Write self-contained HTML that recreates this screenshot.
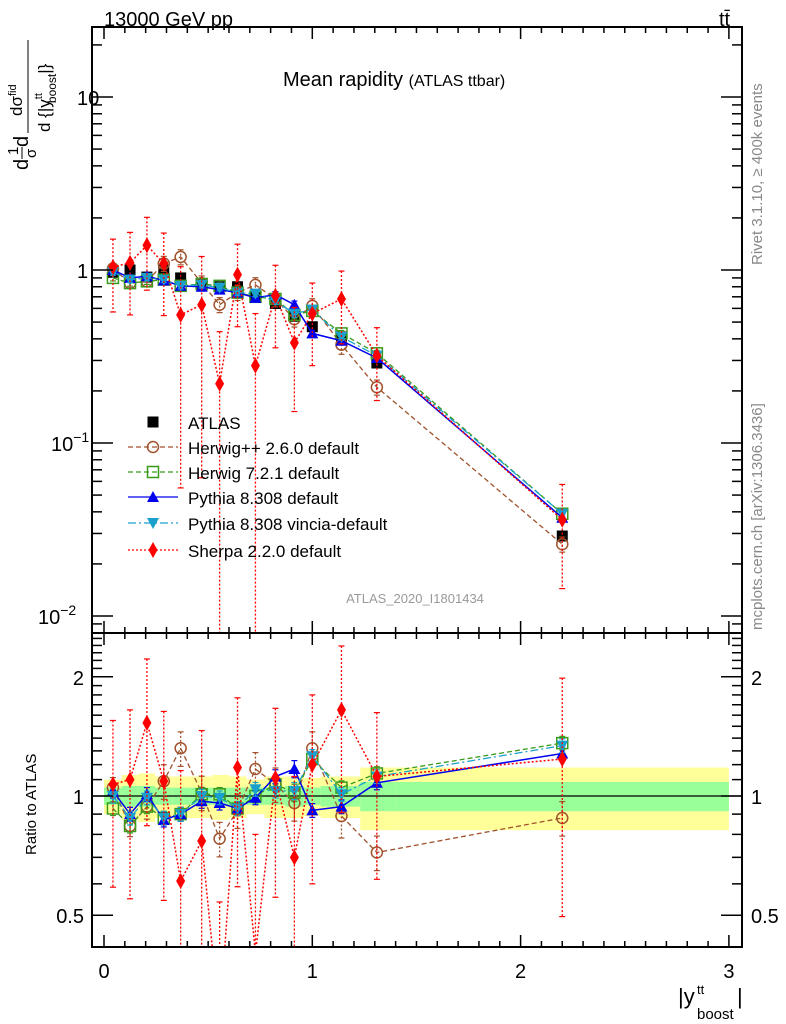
<!DOCTYPE html>
<html><head><meta charset="utf-8"><style>
html,body{margin:0;padding:0;background:#fff;}
svg{display:block;font-family:"Liberation Sans",sans-serif;}
</style></head><body>
<svg id="chart" width="786" height="1024" viewBox="0 0 786 1024" xmlns="http://www.w3.org/2000/svg">
<defs>
<clipPath id="clipMain"><rect x="92" y="27" width="650" height="606"/></clipPath>
<clipPath id="clipRatio"><rect x="92" y="633" width="650" height="314"/></clipPath>
</defs>
<g id="bands" clip-path="url(#clipRatio)"></g>
<g id="main" clip-path="url(#clipMain)"></g>
<g id="ratio" clip-path="url(#clipRatio)"></g>
<g id="axes"></g>
<g id="legend"></g>
<text x="104" y="26" font-size="20">13000 GeV pp</text>
<text x="719" y="26" font-size="20">tt̄</text>
<text x="283" y="86" font-size="20">Mean rapidity <tspan font-size="16">(ATLAS ttbar)</tspan></text>
<text x="415" y="603" font-size="13" fill="#999" text-anchor="middle">ATLAS_2020_I1801434</text>
<text transform="translate(762,265) rotate(-90)" font-size="15" fill="#888">Rivet 3.1.10, ≥ 400k events</text>
<text transform="translate(762,630) rotate(-90)" font-size="15" fill="#888">mcplots.cern.ch [arXiv:1306.3436]</text>
<g font-size="20">
<text transform="translate(28,170) rotate(-90)">d</text>
<text transform="translate(18,155) rotate(-90)" font-size="15">1</text>
<line x1="22" y1="159" x2="22" y2="147" stroke="#000" stroke-width="1"/>
<text transform="translate(36,158) rotate(-90)" font-size="15">σ</text>
<text transform="translate(28,147) rotate(-90)">d</text>
<text transform="translate(22,116) rotate(-90)" font-size="17">dσ<tspan font-size="11" dy="-6">fid</tspan></text>
<line x1="28" y1="133" x2="28" y2="40" stroke="#000" stroke-width="1"/>
<text transform="translate(50,132) rotate(-90)" font-size="17">d {|y<tspan font-size="11" dy="-8">tt</tspan><tspan font-size="12" dy="14" dx="-10">boost</tspan><tspan dy="-6">|}</tspan></text>
</g>
<text transform="translate(36,855) rotate(-90)" font-size="15">Ratio to ATLAS</text>
<g><text x="678" y="1004" font-size="22">|y</text><text x="697" y="994" font-size="13">tt</text><text x="697" y="1019" font-size="15">boost</text><text x="737" y="1004" font-size="22">|</text></g>
</svg>
<script>
const xCenters=[0.043,0.125,0.206,0.287,0.368,0.469,0.555,0.641,0.727,0.823,0.914,1.0,1.14,1.31,2.2];
const binEdges=[0,0.085,0.165,0.245,0.33,0.41,0.52,0.6,0.685,0.77,0.87,0.96,1.04,1.23,1.4,3];
const atlasVals=[0.97,1.0,0.91,1.0,0.9,0.82,0.8,0.8,0.7,0.64,0.54,0.47,0.41,0.29,0.029];
const bandInner=[0.05,0.06,0.06,0.05,0.05,0.05,0.05,0.05,0.05,0.05,0.06,0.05,0.06,0.085,0.085];
const bandOuter=[0.1,0.13,0.14,0.12,0.12,0.12,0.13,0.12,0.1,0.12,0.12,0.11,0.12,0.18,0.18];
const herwigPPVals=[1.02,0.84,0.86,1.09,1.19,0.84,0.63,0.74,0.82,0.68,0.52,0.62,0.37,0.21,0.026];
const herwig7Vals=[0.9,0.84,0.86,0.88,0.81,0.83,0.81,0.74,0.7,0.68,0.55,0.58,0.43,0.33,0.039];
const pythiaVals=[1.0,0.9,0.92,0.87,0.81,0.8,0.77,0.74,0.69,0.72,0.63,0.43,0.39,0.31,0.037];
const vinciaVals=[0.97,0.88,0.9,0.88,0.81,0.82,0.79,0.74,0.73,0.66,0.56,0.59,0.41,0.32,0.039];
const sherpaVals=[1.04,1.1,1.39,1.09,0.55,0.63,0.22,0.94,0.28,0.71,0.38,0.56,0.68,0.32,0.036];
const herwigPPRatio=[1.05,0.84,0.94,1.09,1.32,1.02,0.78,0.92,1.17,1.07,0.96,1.32,0.89,0.72,0.88];
const herwig7Ratio=[0.93,0.84,0.94,0.88,0.9,1.01,1.01,0.93,1.0,1.07,1.02,1.24,1.05,1.14,1.36];
const pythiaRatio=[1.03,0.9,1.01,0.87,0.9,0.97,0.96,0.93,0.99,1.12,1.17,0.92,0.94,1.08,1.28];
const vinciaRatio=[1.0,0.88,0.99,0.88,0.9,1.0,0.99,0.93,1.04,1.03,1.03,1.26,1.01,1.12,1.34];
const sherpaRatio=[1.07,1.1,1.53,1.09,0.61,0.77,0.27,1.18,0.4,1.11,0.7,1.2,1.65,1.12,1.24];
const herwigPPErr=[0.06,0.06,0.07,0.1,0.1,0.1,0.1,0.1,0.1,0.1,0.1,0.1,0.12,0.1,0.1];
const smallErr=[0.04,0.04,0.04,0.04,0.04,0.04,0.04,0.04,0.04,0.04,0.05,0.04,0.04,0.04,0.04];
const sherpaErr=[0.45,0.5,0.45,0.5,0.9,0.9,1.0,0.5,1.0,0.5,0.6,0.5,0.45,0.45,0.6];
const xTicks=[0,1,2,3];

const NS='http://www.w3.org/2000/svg';
const L=92,R=742,MT=27,MB=633,RB=947;
const X=v=>104+208.3*v;
const Y=v=>270-173*Math.log10(v);
const YR=v=>796-396*Math.log10(v);
function mk(tag,attrs,parent){const e=document.createElementNS(NS,tag);for(const k in attrs)e.setAttribute(k,attrs[k]);parent.appendChild(e);return e;}
const bands=document.getElementById('bands'),main=document.getElementById('main'),ratio=document.getElementById('ratio'),axes=document.getElementById('axes'),legend=document.getElementById('legend');

for(let i=0;i<xCenters.length;i++){
  const x0=X(binEdges[i]),x1=X(binEdges[i+1]);
  const o=mk('rect',{x:x0,y:YR(1+bandOuter[i]),width:x1-x0,height:YR(1-bandOuter[i])-YR(1+bandOuter[i]),fill:'#ffff99'},bands);
  
  
  const g=mk('rect',{x:x0,y:YR(1+bandInner[i]),width:x1-x0,height:YR(1-bandInner[i])-YR(1+bandInner[i]),fill:'#99ff99'},bands);
  
  
}
const one=mk('line',{x1:L,x2:R,y1:YR(1),y2:YR(1),stroke:'#000','stroke-width':1.2},ratio);



function marker(kind,x,y,color,parent){
  let e;
  if(kind==='circle')e=mk('circle',{cx:x,cy:y,r:5.5,fill:'none',stroke:color,'stroke-width':1.5},parent);
  else if(kind==='square')e=mk('rect',{x:x-5.5,y:y-5.5,width:11,height:11,fill:'none',stroke:color,'stroke-width':1.5},parent);
  else if(kind==='fsquare')e=mk('rect',{x:x-5.5,y:y-5.5,width:11,height:11,fill:color},parent);
  else if(kind==='tri')e=mk('polygon',{points:`${x},${y-6} ${x-6},${y+5} ${x+6},${y+5}`,fill:color},parent);
  else if(kind==='itri')e=mk('polygon',{points:`${x},${y+6} ${x-6},${y-5} ${x+6},${y-5}`,fill:color},parent);
  else e=mk('polygon',{points:`${x},${y-8} ${x-4.5},${y} ${x},${y+8} ${x+4.5},${y}`,fill:color},parent);
  return e;
}
const series=[
 {name:'herwigpp',vals:herwigPPVals,ratio:herwigPPRatio,err:herwigPPErr,color:'#a0522d',dash:'5,3',kind:'circle',label:'Herwig++ 2.6.0 default',w:1.3},
 {name:'herwig7',vals:herwig7Vals,ratio:herwig7Ratio,err:smallErr,color:'#3a9a1a',dash:'5,3',kind:'square',label:'Herwig 7.2.1 default',w:1.3},
 {name:'pythia',vals:pythiaVals,ratio:pythiaRatio,err:smallErr,color:'#0000ee',dash:'',kind:'tri',label:'Pythia 8.308 default',w:1.5},
 {name:'vincia',vals:vinciaVals,ratio:vinciaRatio,err:smallErr,color:'#1aa0cc',dash:'8,3,2,3',kind:'itri',label:'Pythia 8.308 vincia-default',w:1.3},
 {name:'sherpa',vals:sherpaVals,ratio:sherpaRatio,err:sherpaErr,color:'#ff0000',dash:'2,2',kind:'diamond',label:'Sherpa 2.2.0 default',w:1.5}
];
function clipY(y,top,bot){return Math.max(top,Math.min(bot,y));}
function drawSeries(s,vals,Yf,top,bot,parent,suffix){
  const g=mk('g',{},parent);
  
  
  const pts=xCenters.map((x,i)=>X(x)+','+Yf(vals[i])).join(' ');
  mk('polyline',{points:pts,fill:'none',stroke:s.color,'stroke-width':s.w,'stroke-dasharray':s.dash},g);
  xCenters.forEach((x,i)=>{
    const v=vals[i],lo=Math.max(v*(1-s.err[i]),1e-6),hi=v*(1+s.err[i]);
    const y1=clipY(Yf(hi),top,bot),y2=clipY(Yf(lo),top,bot);
    const eb=mk('line',{x1:X(x),x2:X(x),y1:y1,y2:y2,stroke:s.color,'stroke-width':1.3,'stroke-dasharray':s.dash?'2,2':''},g);
    
    
    mk('line',{x1:X(x)-3,x2:X(x)+3,y1:y1,y2:y1,stroke:s.color,'stroke-width':1.2},g);
    mk('line',{x1:X(x)-3,x2:X(x)+3,y1:y2,y2:y2,stroke:s.color,'stroke-width':1.2},g);
    const m=marker(s.kind,X(x),Yf(v),s.color,g);
    
    
  });
}
const ag=mk('g',{},main);


xCenters.forEach((x,i)=>{const m=marker('fsquare',X(x),Y(atlasVals[i]),'#000',ag);
  
  });
series.forEach(s=>{drawSeries(s,s.vals,Y,MT,MB,main,'main');drawSeries(s,s.ratio,YR,MB,RB,ratio,'ratio');});

[[MT,MB],[MB,RB]].forEach(([t,b])=>{const f=mk('rect',{x:L,y:t,width:R-L,height:b-t,fill:'none',stroke:'#000','stroke-width':2},axes);
  
  });
for(let v=0;v<=3.001;v+=0.1){const x=X(v),maj=Math.abs(v-Math.round(v))<1e-6,len=maj?12:6;
  [[MT,1],[MB,-1],[MB,1],[RB,-1]].forEach(([y,d])=>mk('line',{x1:x,x2:x,y1:y,y2:y+d*len,stroke:'#000','stroke-width':1.5},axes));}
xTicks.forEach(v=>{const t=mk('text',{x:X(v),y:978,'font-size':20,'text-anchor':'middle'},axes);t.textContent=v;
  
  });
for(let d=-3;d<=1;d++)for(let k=1;k<=9;k++){const v=k*Math.pow(10,d),y=Y(v);if(y<MT||y>MB)continue;const len=k===1?21:10;
  mk('line',{x1:L,x2:L+len,y1:y,y2:y,stroke:'#000','stroke-width':1.5},axes);mk('line',{x1:R,x2:R-len,y1:y,y2:y,stroke:'#000','stroke-width':1.5},axes);}
const ml=[['10',10,77],['1',1,77],['10',0.1,51,'−1'],['10',0.01,38,'−2']];
ml.forEach(([s,v,x,e])=>{const t=mk('text',{x:x,y:Y(v)+8,'font-size':20},axes);t.textContent=s;
  
  
  if(e){const sp=mk('tspan',{'font-size':14,dy:-9},t);sp.textContent=e;}});
for(let v=0.4;v<=2.55;v+=0.1){const y=YR(v);if(y<MB||y>RB)continue;const maj=[0.5,1,2].some(m=>Math.abs(m-v)<1e-6),len=maj?21:10;
  mk('line',{x1:L,x2:L+len,y1:y,y2:y,stroke:'#000','stroke-width':1.5},axes);mk('line',{x1:R,x2:R-len,y1:y,y2:y,stroke:'#000','stroke-width':1.5},axes);}
[['2',2],['1',1],['0.5',0.5]].forEach(([s,v])=>{
  const t=mk('text',{x:84,y:YR(v)+8,'font-size':20,'text-anchor':'end'},axes);t.textContent=s;
  
  
  const t2=mk('text',{x:751,y:YR(v)+8,'font-size':20},axes);t2.textContent=s;
  
  });
const rowsY=[422,447,472,497,523,550];
const le=mk('g',{},legend);


marker('fsquare',153,rowsY[0],'#000',le);
const at=mk('text',{x:188,y:rowsY[0]+7,'font-size':17},le);at.textContent='ATLAS';
series.forEach((s,i)=>{const g=mk('g',{},legend);
  
  
  const y=rowsY[i+1];
  mk('line',{x1:128,x2:178,y1:y,y2:y,stroke:s.color,'stroke-width':1.3,'stroke-dasharray':s.dash},g);
  marker(s.kind,153,y,s.color,g);
  const t=mk('text',{x:188,y:y+7,'font-size':17},g);t.textContent=s.label;});
</script>
</body></html>
